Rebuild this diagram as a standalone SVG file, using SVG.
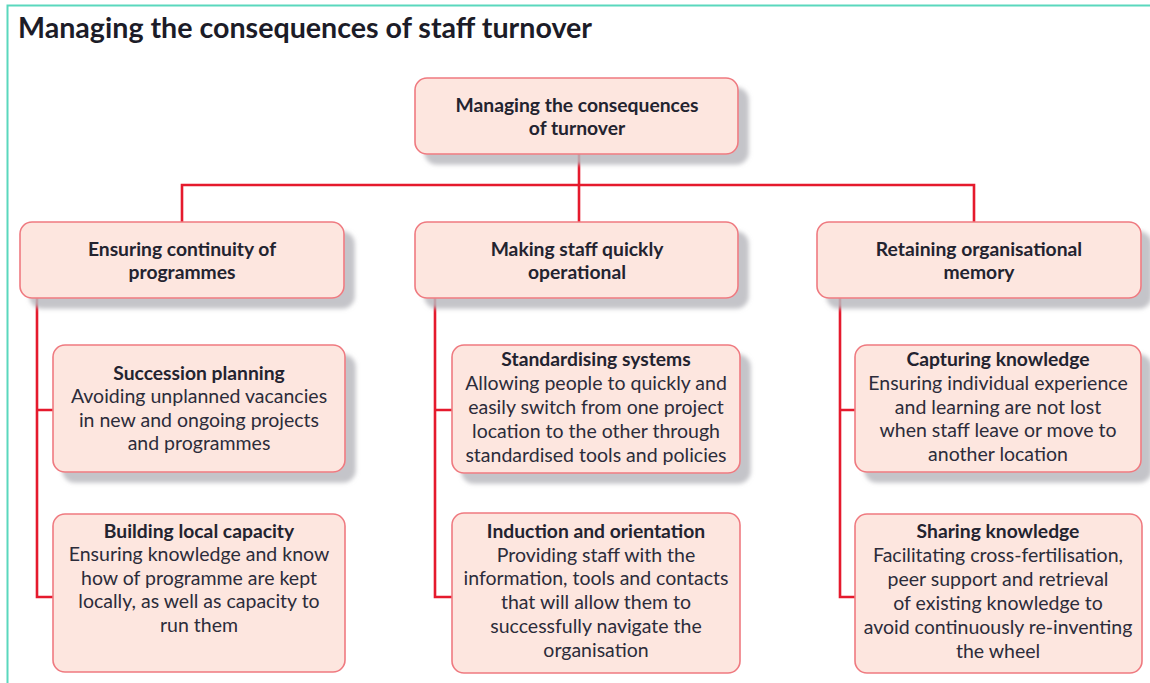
<svg xmlns="http://www.w3.org/2000/svg" width="1150" height="683" viewBox="0 0 1150 683">
  <style>
    .box { fill: #fde6df; stroke: #ef7a80; stroke-width: 1.6; }
    .shadowed { filter: url(#shade); }
    .link { fill: none; stroke: #e51a2d; stroke-width: 2.6; stroke-linejoin: miter; }
    .head { font-family: Lato, "Liberation Sans", sans-serif; font-weight: bold; font-size: 19.3px; fill: #23232f; text-anchor: middle; }
    .body { font-family: Lato, "Liberation Sans", sans-serif; font-size: 19.5px; fill: #2c2c3a; text-anchor: middle; }
    .title { font-family: Lato, "Liberation Sans", sans-serif; font-weight: bold; font-size: 29px; fill: #1c1c28; }
    .frame { stroke: #5ad8bd; stroke-width: 2; fill: none; }
  </style>
  <defs>
    <filter id="shade" x="-10%" y="-20%" width="130%" height="150%">
      <feDropShadow dx="10" dy="10" stdDeviation="2" flood-color="#b9b9bf" flood-opacity="0.85"/>
    </filter>
  </defs>

  <rect width="1150" height="683" fill="#ffffff"/>
  <!-- page frame -->
  <path class="frame" d="M7.5 683 V5.5 H1150"/>

  <text class="title" x="18" y="38" textLength="574" lengthAdjust="spacingAndGlyphs">Managing the consequences of staff turnover</text>

  <!-- connectors -->
  <g id="connectors">
    <path class="link" d="M579 154 V185"/>
    <path class="link" d="M182 222 V185 H974 V222"/>
    <path class="link" d="M579 185 V222"/>
    <path class="link" d="M37 298 V597 H53 M37 410 H53"/>
    <path class="link" d="M435 298 V597 H452 M435 410 H452"/>
    <path class="link" d="M840 298 V597 H855 M840 410 H855"/>
  </g>

  <!-- root -->
  <g id="root">
    <rect class="box shadowed" x="415" y="78" width="323" height="76" rx="12"/>
    <text class="head" x="577" y="112">Managing the consequences</text>
    <text class="head" x="577" y="135">of turnover</text>
  </g>

  <!-- second level -->
  <g id="continuity">
    <rect class="box shadowed" x="20" y="222" width="324" height="76" rx="12"/>
    <text class="head" x="182" y="256">Ensuring continuity of</text>
    <text class="head" x="182" y="279">programmes</text>
  </g>
  <g id="operational">
    <rect class="box shadowed" x="415" y="222" width="323" height="76" rx="12"/>
    <text class="head" x="577" y="256">Making staff quickly</text>
    <text class="head" x="577" y="279">operational</text>
  </g>
  <g id="memory">
    <rect class="box shadowed" x="817" y="222" width="324" height="76" rx="12"/>
    <text class="head" x="979" y="256">Retaining organisational</text>
    <text class="head" x="979" y="279">memory</text>
  </g>

  <!-- third level: continuity -->
  <g id="succession">
    <rect class="box shadowed" x="53" y="345" width="292" height="127" rx="12"/>
    <text class="head" x="199" y="380">Succession planning</text>
    <text class="body" x="199" y="403">Avoiding unplanned vacancies</text>
    <text class="body" x="199" y="427">in new and ongoing projects</text>
    <text class="body" x="199" y="450">and programmes</text>
  </g>
  <g id="capacity">
    <rect class="box" x="53" y="514" width="292" height="158" rx="12"/>
    <text class="head" x="199" y="538">Building local capacity</text>
    <text class="body" x="199" y="561">Ensuring knowledge and know</text>
    <text class="body" x="199" y="585">how of programme are kept</text>
    <text class="body" x="199" y="608">locally, as well as capacity to</text>
    <text class="body" x="199" y="632">run them</text>
  </g>

  <!-- third level: operational -->
  <g id="standardising">
    <rect class="box shadowed" x="452" y="345" width="288" height="128" rx="12"/>
    <text class="head" x="596" y="366">Standardising systems</text>
    <text class="body" x="596" y="390">Allowing people to quickly and</text>
    <text class="body" x="596" y="414">easily switch from one project</text>
    <text class="body" x="596" y="438">location to the other through</text>
    <text class="body" x="596" y="462">standardised tools and policies</text>
  </g>
  <g id="induction">
    <rect class="box" x="452" y="513" width="288" height="160" rx="12"/>
    <text class="head" x="596" y="538">Induction and orientation</text>
    <text class="body" x="596" y="562">Providing staff with the</text>
    <text class="body" x="596" y="585">information, tools and contacts</text>
    <text class="body" x="596" y="609">that will allow them to</text>
    <text class="body" x="596" y="633">successfully navigate the</text>
    <text class="body" x="596" y="657">organisation</text>
  </g>

  <!-- third level: memory -->
  <g id="capturing">
    <rect class="box shadowed" x="855" y="345" width="286" height="127" rx="12"/>
    <text class="head" x="998" y="366">Capturing knowledge</text>
    <text class="body" x="998" y="390">Ensuring individual experience</text>
    <text class="body" x="998" y="414">and learning are not lost</text>
    <text class="body" x="998" y="437">when staff leave or move to</text>
    <text class="body" x="998" y="461">another location</text>
  </g>
  <g id="sharing">
    <rect class="box" x="855" y="514" width="287" height="159" rx="12"/>
    <text class="head" x="998" y="538">Sharing knowledge</text>
    <text class="body" x="998" y="562">Facilitating cross-fertilisation,</text>
    <text class="body" x="998" y="586">peer support and retrieval</text>
    <text class="body" x="998" y="610">of existing knowledge to</text>
    <text class="body" x="998" y="634">avoid continuously re-inventing</text>
    <text class="body" x="998" y="658">the wheel</text>
  </g>
</svg>
